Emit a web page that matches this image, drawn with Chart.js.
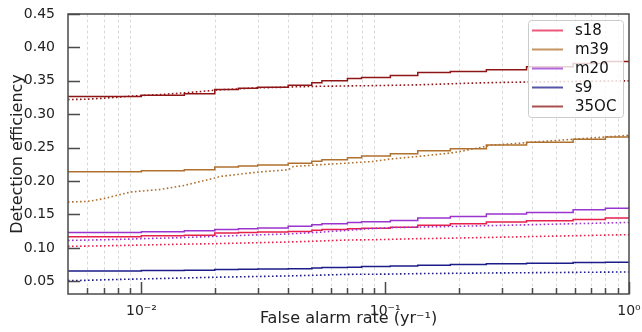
<!DOCTYPE html>
<html>
<head>
<meta charset="utf-8">
<script src="https://cdn.jsdelivr.net/npm/chart.js@4"></script>
<style>
  html, body { margin: 0; padding: 0; background: #fff; }
  #wrap { width: 642px; height: 332px; }
</style>
</head>
<body>
<div id="wrap"><canvas id="eff"></canvas></div>
<script>
// series names / colours (legend order)
const names = ['s18', 'm39', 'm20', 's9', '35OC'];
const colors = ['#e5204c', '#b0702e', '#9a34cf', '#1d1d8a', '#8e1616'];

// false alarm rate grid for the solid (stepped) curves
const farSolid = [0.005, 0.01, 0.015, 0.02, 0.025, 0.03, 0.04, 0.05, 0.055, 0.07, 0.08, 0.105, 0.136, 0.185, 0.26, 0.38, 0.59, 0.8, 1.0];
const s18Solid  = [0.1168, 0.1182, 0.1190, 0.1222, 0.1230, 0.1237, 0.1247, 0.1265, 0.1275, 0.1287, 0.1295, 0.1307, 0.1337, 0.1360, 0.1387, 0.1405, 0.1425, 0.1448, 0.1460];
const m39Solid  = [0.2140, 0.2155, 0.2170, 0.2210, 0.2225, 0.2240, 0.2265, 0.2295, 0.2320, 0.2350, 0.2375, 0.2410, 0.2455, 0.2485, 0.2540, 0.2580, 0.2625, 0.2660, 0.2690];
const m20Solid  = [0.1232, 0.1242, 0.1257, 0.1277, 0.1287, 0.1297, 0.1322, 0.1347, 0.1360, 0.1380, 0.1390, 0.1410, 0.1447, 0.1470, 0.1507, 0.1530, 0.1570, 0.1595, 0.1615];
const s9Solid   = [0.0655, 0.0660, 0.0665, 0.0675, 0.0680, 0.0683, 0.0688, 0.0698, 0.0705, 0.0712, 0.0720, 0.0728, 0.0739, 0.0750, 0.0764, 0.0772, 0.0780, 0.0785, 0.0790];
const c35Solid  = [0.3265, 0.3285, 0.3305, 0.3370, 0.3390, 0.3405, 0.3435, 0.3470, 0.3500, 0.3535, 0.3550, 0.3580, 0.3625, 0.3640, 0.3665, 0.3710, 0.3760, 0.3790, 0.3800];

// false alarm rate grid for the dotted curves
const farDotted = [0.005, 0.006, 0.007, 0.008, 0.009, 0.01, 0.012, 0.015, 0.0175, 0.02, 0.021, 0.03, 0.04, 0.042, 0.054, 0.07, 0.089, 0.104, 0.136, 0.184, 0.2, 0.25, 0.27, 0.43, 1.0];
const s18Dotted = [0.1023, 0.1027, 0.1031, 0.1035, 0.1039, 0.1043, 0.1049, 0.1056, 0.1060, 0.1063, 0.1065, 0.1078, 0.1088, 0.1090, 0.1103, 0.1118, 0.1122, 0.1128, 0.1138, 0.1145, 0.1148, 0.1155, 0.1157, 0.1172, 0.1198];
const m39Dotted = [0.1686, 0.1695, 0.1735, 0.1790, 0.1835, 0.1850, 0.1875, 0.1935, 0.1995, 0.2045, 0.2069, 0.2134, 0.2169, 0.2218, 0.2244, 0.2269, 0.2293, 0.2328, 0.2368, 0.2418, 0.2438, 0.2508, 0.2535, 0.2590, 0.2685];
const m20Dotted = [0.1112, 0.1117, 0.1122, 0.1127, 0.1132, 0.1138, 0.1145, 0.1155, 0.1165, 0.1172, 0.1175, 0.1195, 0.1208, 0.1212, 0.1235, 0.1262, 0.1290, 0.1302, 0.1312, 0.1320, 0.1323, 0.1332, 0.1333, 0.1350, 0.1381];
const s9Dotted  = [0.0510, 0.0515, 0.0522, 0.0528, 0.0532, 0.0535, 0.0542, 0.0550, 0.0556, 0.0560, 0.0562, 0.0572, 0.0580, 0.0582, 0.0592, 0.0604, 0.0606, 0.0608, 0.0615, 0.0619, 0.0620, 0.0624, 0.0625, 0.0630, 0.0640];
const c35Dotted = [0.3220, 0.3225, 0.3240, 0.3255, 0.3270, 0.3280, 0.3295, 0.3320, 0.3340, 0.3360, 0.3365, 0.3395, 0.3405, 0.3410, 0.3418, 0.3424, 0.3428, 0.3432, 0.3440, 0.3455, 0.3460, 0.3470, 0.3473, 0.3485, 0.3500];

const solidSets = [s18Solid, m39Solid, m20Solid, s9Solid, c35Solid];
const dottedSets = [s18Dotted, m39Dotted, m20Dotted, s9Dotted, c35Dotted];

// axis ticks
const yTicks = [0.05, 0.10, 0.15, 0.20, 0.25, 0.30, 0.35, 0.40, 0.45];
const xMajor = [0.01, 0.1, 1];
const xMajorLabels = ['10\u207B\u00B2', '10\u207B\u00B9', '10\u2070'];
const xMinor = [0.006, 0.007, 0.008, 0.009, 0.02, 0.03, 0.04, 0.05, 0.06, 0.07, 0.08, 0.09, 0.2, 0.3, 0.4, 0.5, 0.6, 0.7, 0.8, 0.9];

const FONT = 'DejaVu Sans';

function toPoints(xs, ys){
  return xs.map((v, i) => ({x: v, y: ys[i]}));
}

let datasets = [];
for (let i = 0; i < names.length; i++) {
  datasets.push({
    label: names[i] + ' dotted',
    data: toPoints(farDotted, dottedSets[i]),
    borderColor: colors[i],
    borderWidth: 1.6,
    borderDash: [1.6, 2.4],
    pointRadius: 0,
    fill: false,
    showInLegend: false
  });
}
for (let i = 0; i < names.length; i++) {
  datasets.push({
    label: names[i],
    data: toPoints(farSolid, solidSets[i]),
    borderColor: colors[i],
    borderWidth: 1.5,
    stepped: true,
    pointRadius: 0,
    fill: false,
    showInLegend: true
  });
}

// grid, frame and inward ticks the way the original figure has them
const framePlugin = {
  id: 'framePlugin',
  beforeDatasetsDraw(chart) {
    const {ctx, chartArea: a, scales: {x}} = chart;
    ctx.save();
    ctx.strokeStyle = '#dadada';
    ctx.lineWidth = 1;
    ctx.setLineDash([3, 2.5]);
    for (const v of xMinor) {
      const px = Math.round(x.getPixelForValue(v)) + 0.5;
      ctx.beginPath();
      ctx.moveTo(px, a.top);
      ctx.lineTo(px, a.bottom);
      ctx.stroke();
    }
    ctx.restore();
  },
  afterDatasetsDraw(chart) {
    const {ctx, chartArea: a, scales: {x, y}} = chart;
    ctx.save();
    ctx.strokeStyle = '#4a4a4a';
    ctx.lineWidth = 1.5;
    // ticks
    ctx.beginPath();
    for (const v of xMajor) {
      const px = Math.round(x.getPixelForValue(v)) + 0.5;
      ctx.moveTo(px, a.bottom);
      ctx.lineTo(px, a.bottom - 12);
    }
    for (const v of xMinor) {
      const px = Math.round(x.getPixelForValue(v)) + 0.5;
      ctx.moveTo(px, a.bottom);
      ctx.lineTo(px, a.bottom - 6);
    }
    for (const v of yTicks) {
      const py = Math.round(y.getPixelForValue(v)) + 0.5;
      ctx.moveTo(a.left, py);
      ctx.lineTo(a.left + 12, py);
    }
    ctx.stroke();
    ctx.strokeRect(a.left, a.top, a.right - a.left, a.bottom - a.top);
    ctx.restore();
  },
  afterDraw(chart) {
    const ctx = chart.ctx;
    const sets = chart.data.datasets.filter(d => d.showInLegend);
    const bx = 528, by = 20, bw = 95, bh = 97, row = 19;
    ctx.save();
    ctx.fillStyle = 'rgba(255,255,255,0.8)';
    ctx.strokeStyle = '#cccccc';
    ctx.lineWidth = 1;
    ctx.beginPath();
    ctx.roundRect(bx + 0.5, by + 0.5, bw, bh, 3);
    ctx.fill();
    ctx.stroke();
    ctx.font = '15px "' + FONT + '"';
    ctx.textBaseline = 'middle';
    ctx.fillStyle = '#111';
    sets.forEach((d, i) => {
      const cy = by + 10.5 + i * row;
      ctx.strokeStyle = d.borderColor;
      ctx.globalAlpha = 0.75;
      ctx.lineWidth = 2;
      ctx.beginPath();
      ctx.moveTo(bx + 4, cy);
      ctx.lineTo(bx + 35, cy);
      ctx.stroke();
      ctx.globalAlpha = 1;
      ctx.fillText(d.label, bx + 47, cy + 0.5);
    });
    ctx.restore();
  }
};

new Chart(document.getElementById('eff'), {
  type: 'line',
  data: { datasets: datasets },
  options: {
    responsive: true,
    maintainAspectRatio: false,
    animation: false,
    events: [],
    layout: { padding: { left: 0, right: 13, top: 14, bottom: 0 } },
    plugins: { legend: { display: false }, tooltip: { enabled: false } },
    scales: {
      x: {
        type: 'logarithmic',
        min: 0.005,
        max: 1,
        afterBuildTicks: (scale) => { scale.ticks = xMajor.map(v => ({value: v})); },
        afterFit: (scale) => { scale.height = 38; },
        grid: { display: false },
        border: { display: false },
        ticks: {
          padding: 1,
          maxRotation: 0,
          autoSkip: false,
          color: '#222',
          font: { family: FONT, size: 14 },
          callback: (v) => { const i = xMajor.indexOf(v); return i >= 0 ? xMajorLabels[i] : ''; }
        },
        title: {
          display: true,
          text: 'False alarm rate (yr\u207B\u00B9)',
          color: '#222',
          font: { family: FONT, size: 16 },
          padding: { top: 0, bottom: 4 }
        }
      },
      y: {
        min: 0.031,
        max: 0.45,
        afterBuildTicks: (scale) => { scale.ticks = yTicks.map(v => ({value: v})); },
        afterFit: (scale) => { scale.width = 68; },
        grid: { display: false },
        border: { display: false },
        ticks: {
          padding: 5,
          color: '#222',
          font: { family: FONT, size: 14 },
          callback: (v) => Number(v).toFixed(2)
        },
        title: {
          display: true,
          text: 'Detection efficiency',
          color: '#222',
          font: { family: FONT, size: 16 },
          padding: { top: 8, bottom: 0 }
        }
      }
    }
  },
  plugins: [framePlugin]
});
</script>
</body>
</html>
